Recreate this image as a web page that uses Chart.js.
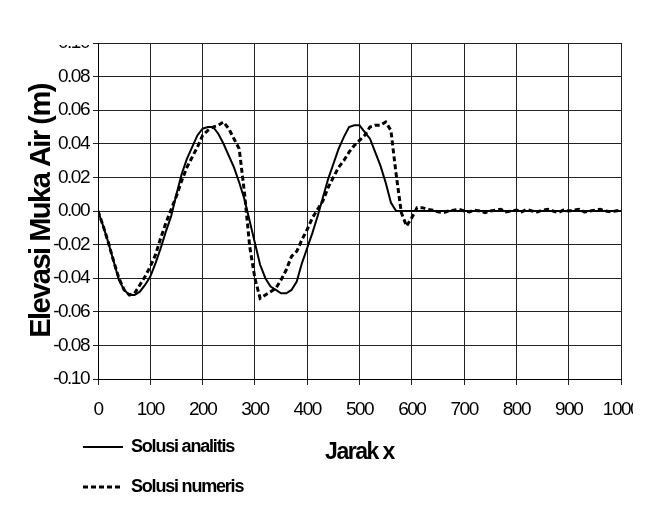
<!DOCTYPE html>
<html>
<head>
<meta charset="utf-8">
<script src="https://cdn.jsdelivr.net/npm/chart.js@4.4.1/dist/chart.umd.min.js"></script>
<style>
  html, body { margin: 0; padding: 0; background: #fff; }
</style>
</head>
<body>
<canvas id="chart" width="662" height="517"></canvas>
<script>
// jarak x (m)
const jarak = [
  0, 10, 20, 30, 40, 50, 60, 70, 80, 90,
  100, 110, 120, 130, 140, 150, 160, 170, 180, 190,
  200, 210, 220, 230, 240, 250, 260, 270, 280, 290,
  300, 310, 320, 330, 340, 350, 360, 370, 380, 390,
  400, 410, 420, 430, 440, 450, 460, 470, 480, 490,
  500, 510, 520, 530, 540, 550, 560, 570, 580, 590,
  600, 610, 620, 630, 640, 650, 660, 670, 680, 690,
  700, 710, 720, 730, 740, 750, 760, 770, 780, 790,
  800, 810, 820, 830, 840, 850, 860, 870, 880, 890,
  900, 910, 920, 930, 940, 950, 960, 970, 980, 990,
  1000
];

// solusi analitis (m)
const analitis = [
  0, -0.009, -0.019, -0.030, -0.041, -0.047, -0.050, -0.050, -0.048, -0.044,
  -0.039, -0.031, -0.022, -0.012, -0.003, 0.010, 0.022, 0.031, 0.038, 0.045,
  0.049, 0.050, 0.050, 0.046, 0.040, 0.033, 0.026, 0.017, 0.007, -0.006,
  -0.019, -0.032, -0.040, -0.045, -0.047, -0.049, -0.049, -0.047, -0.042, -0.031,
  -0.022, -0.013, -0.003, 0.008, 0.019, 0.028, 0.037, 0.044, 0.050, 0.051,
  0.051, 0.047, 0.043, 0.035, 0.027, 0.017, 0.005, 0, 0, 0,
  0, 0, 0, 0, 0, 0, 0, 0, 0, 0,
  0, 0, 0, 0, 0, 0, 0, 0, 0, 0,
  0, 0, 0, 0, 0, 0, 0, 0, 0, 0,
  0, 0, 0, 0, 0, 0, 0, 0, 0, 0,
  0
];

// solusi numeris (m)
const numeris = [
  0, -0.009, -0.019, -0.030, -0.040, -0.047, -0.050, -0.049, -0.044, -0.039,
  -0.033, -0.026, -0.016, -0.007, 0.001, 0.009, 0.018, 0.026, 0.032, 0.038,
  0.045, 0.048, 0.050, 0.051, 0.053, 0.049, 0.043, 0.037, 0.011, -0.021,
  -0.040, -0.052, -0.050, -0.048, -0.046, -0.041, -0.035, -0.027, -0.024, -0.017,
  -0.011, -0.004, 0.001, 0.006, 0.014, 0.020, 0.026, 0.030, 0.035, 0.039,
  0.042, 0.045, 0.050, 0.051, 0.051, 0.053, 0.048, 0.022, -0.001, -0.009,
  -0.004, 0.002, 0.002, 0.001, 0.0005, -0.0005, -0.001, 0, 0.0005, 0.001,
  0, -0.0005, 0.0005, 0, -0.001, 0, 0.0005, 0.001, -0.0005, 0,
  0.0005, -0.0005, 0.001, 0, -0.0005, 0.0005, 0.001, 0, -0.001, 0.0005,
  0, 0.0005, 0.001, -0.0005, 0, 0.0005, 0.001, 0, -0.0005, 0,
  0.0005
];

const yTicks = { min: -0.10, max: 0.10, step: 0.02 };
const xTicks = { min: 0, max: 1000, step: 100 };

const FONT = '"Liberation Sans", Arial, sans-serif';

// jarak huruf dipersempit seperti gambar asli
const spacingPlugin = {
  id: 'spacing',
  beforeLayout(chart) { chart.ctx.letterSpacing = '-1.5px'; },
  beforeDraw(chart) { chart.ctx.letterSpacing = '-1.5px'; }
};

// potongan putih di tepi (gambar asli terpotong)
const cropPlugin = {
  id: 'crop',
  afterDraw(chart) {
    const ctx = chart.ctx;
    ctx.save();
    ctx.fillStyle = '#fff';
    ctx.fillRect(0, 0, chart.chartArea.left - 6, chart.chartArea.top + 2);
    ctx.fillRect(633, 0, chart.width - 633, chart.height);
    ctx.restore();
  }
};

// legenda di kiri bawah
const legendPlugin = {
  id: 'sideLegend',
  afterDraw(chart) {
    const ctx = chart.ctx;
    ctx.save();
    chart.data.datasets.forEach((ds, i) => {
      const y = 447 + i * 40;
      ctx.beginPath();
      ctx.setLineDash(ds.borderDash || []);
      ctx.lineWidth = ds.borderWidth;
      ctx.strokeStyle = ds.borderColor;
      ctx.moveTo(83, y);
      ctx.lineTo(123, y);
      ctx.stroke();
      ctx.setLineDash([]);
      ctx.letterSpacing = '-1.2px';
      ctx.font = 'bold 18px ' + FONT;
      ctx.fillStyle = '#000';
      ctx.textAlign = 'left';
      ctx.textBaseline = 'middle';
      ctx.fillText(ds.label, 131, y);
    });
    ctx.restore();
  }
};

const ctx = document.getElementById('chart');

new Chart(ctx, {
  type: 'line',
  data: {
    datasets: [
      {
        label: 'Solusi analitis',
        data: jarak.map((x, i) => ({ x: x, y: analitis[i] })),
        borderColor: '#000',
        borderWidth: 2,
        pointRadius: 0,
        tension: 0,
        fill: false
      },
      {
        label: 'Solusi numeris',
        data: jarak.map((x, i) => ({ x: x, y: numeris[i] })),
        borderColor: '#000',
        borderWidth: 3,
        borderDash: [5, 3],
        pointRadius: 0,
        tension: 0,
        fill: false
      }
    ]
  },
  options: {
    responsive: false,
    animation: false,
    layout: {
      padding: { top: 43, right: 41, left: 0, bottom: 0 }
    },
    plugins: {
      legend: { display: false },
      tooltip: { enabled: false }
    },
    scales: {
      x: {
        type: 'linear',
        min: xTicks.min,
        max: xTicks.max,
        ticks: {
          stepSize: xTicks.step,
          color: '#000',
          padding: 13,
          maxRotation: 0,
          font: { family: FONT, size: 19 },
          callback: (v) => String(v)
        },
        grid: { color: '#222', lineWidth: 1, tickLength: 6 },
        border: { color: '#000', width: 1 },
        title: {
          display: true,
          text: 'Jarak x',
          color: '#000',
          padding: { top: 0, bottom: 51 },
          font: { family: FONT, size: 23, weight: 'bold' }
        },
        afterFit(scale) {
          scale.height = 138;
          scale.paddingLeft = 0;
          scale.paddingRight = 0;
        }
      },
      y: {
        min: yTicks.min,
        max: yTicks.max,
        ticks: {
          stepSize: yTicks.step,
          color: '#000',
          padding: 4,
          font: { family: FONT, size: 19 },
          callback: (v) => (Math.abs(v) < 1e-9 ? 0 : v).toFixed(2)
        },
        grid: { color: '#222', lineWidth: 1, tickLength: 5 },
        border: { color: '#000', width: 1 },
        title: {
          display: true,
          text: 'Elevasi Muka Air (m)',
          color: '#000',
          padding: { top: 25, bottom: 0 },
          font: { family: FONT, size: 29, weight: 'bold' }
        },
        afterFit(scale) {
          scale.width = 98;
          scale.paddingTop = 0;
          scale.paddingBottom = 0;
        }
      }
    }
  },
  plugins: [spacingPlugin, cropPlugin, legendPlugin]
});
</script>
</body>
</html>
